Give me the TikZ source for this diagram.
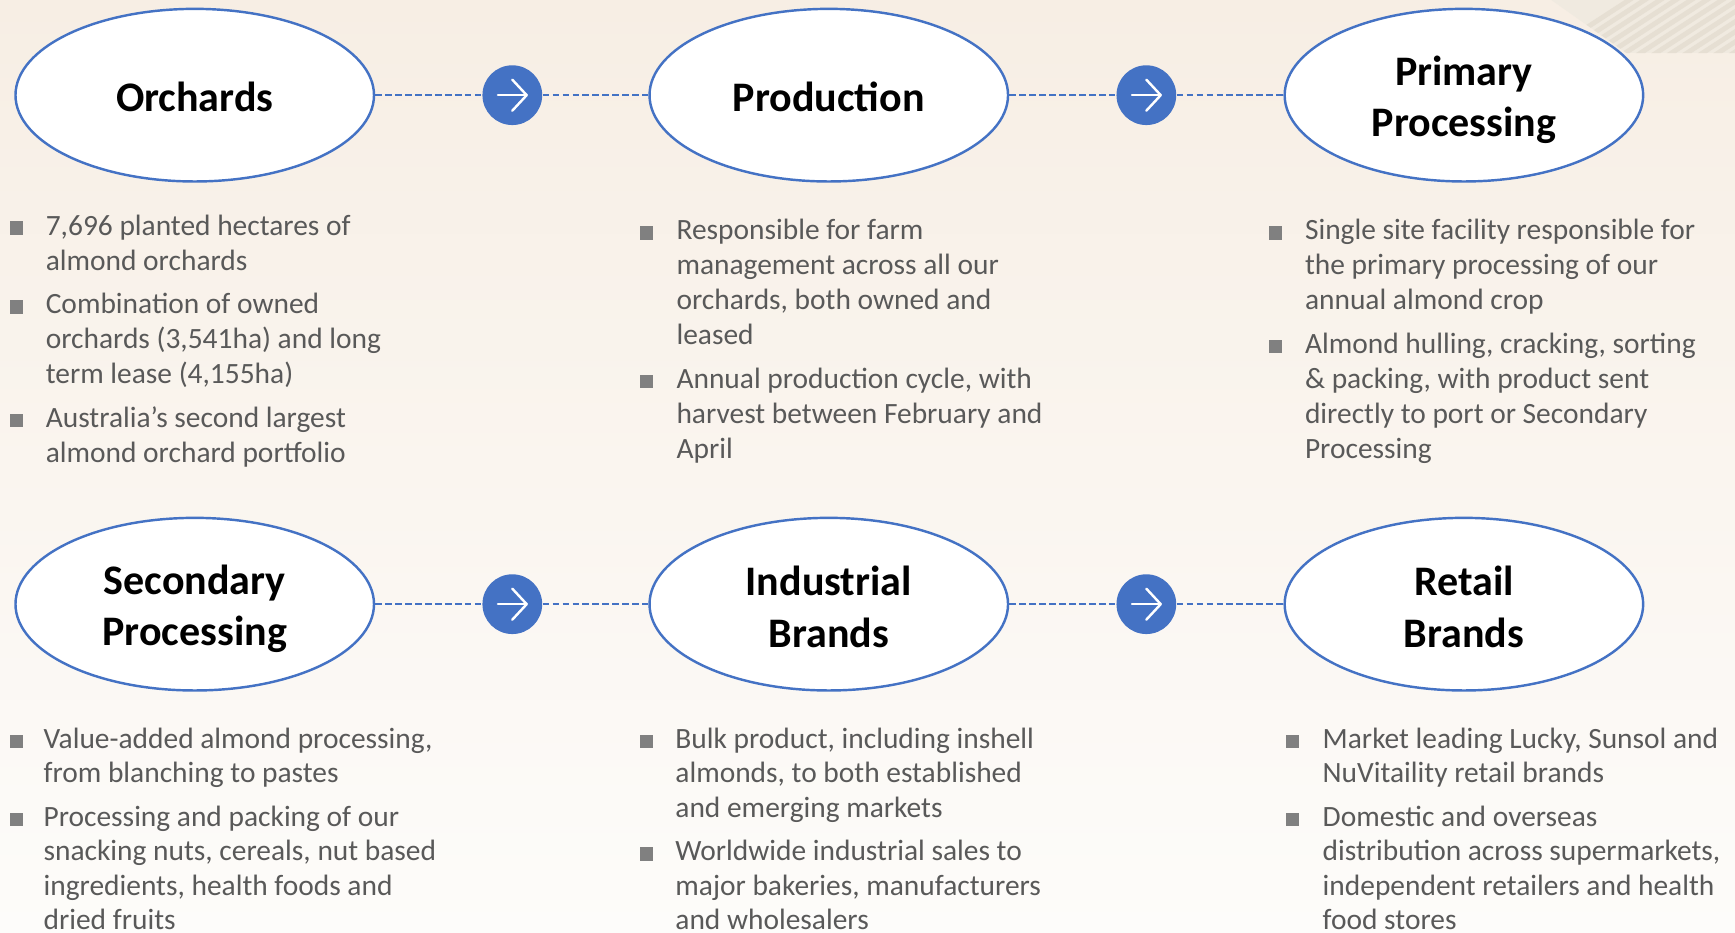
\documentclass[tikz,border=0pt]{standalone}
\usepackage{fontspec}
\setmainfont{Carlito}
\usetikzlibrary{shapes.geometric}
\definecolor{myblue}{HTML}{4472C4}
\definecolor{txtgray}{HTML}{595959}
\definecolor{bulgray}{HTML}{808080}
\definecolor{bgtop}{HTML}{F7EEE4}
\definecolor{bgbot}{HTML}{FDFCFA}
\definecolor{texa}{HTML}{F0EAE0}
\definecolor{texb}{HTML}{E6DFD3}
\tikzset{
  stage/.style={ellipse, draw=myblue, line width=1.1pt, fill=white,
    minimum width=162pt, minimum height=78pt, inner sep=0pt},
  lbl/.style={inner sep=0pt, align=center,
    font=\fontsize{19}{23.3}\selectfont\bfseries},
  arrowdot/.style={circle, fill=myblue, minimum size=27pt, inner sep=0pt},
  conn/.style={draw=myblue, line width=1.15pt, dash pattern=on 3pt off 1.5pt},
  glyph/.style={draw=white, line width=1.1pt, line cap=round, line join=round},
  bul/.style={rectangle, fill=bulgray, minimum size=6pt, inner sep=0pt},
  txt/.style={anchor=base west, inner sep=0pt, text=txtgray,
    font=\fontsize{13.3}{16}\selectfont}
}
\begin{document}
\begin{tikzpicture}[x=0.5pt,y=-0.5pt]
\useasboundingbox (0,0) rectangle (1568,843);
\shade[top color=bgtop, bottom color=bgbot] (0,0) rectangle (1568,843);
% texture top right
\begin{scope}
\clip (1402,0) -- (1470,48) -- (1568,48) -- (1568,0) -- cycle;
\fill[texa] (1390,0) rectangle (1568,48);
\foreach \s in {0,14,...,260}{
  \draw[texb, line width=2.2pt] (1380+\s,60) -- (1480+\s,-5);
}
\end{scope}
% stages
\node[stage] (orch) at (176,86) {};
\node[stage] (prod) at (749,86) {};
\node[stage] (prim) at (1323,86) {};
\node[stage] (sec)  at (176,546) {};
\node[stage] (ind)  at (749,546) {};
\node[stage] (ret)  at (1323,546) {};
\node[lbl] (orchl) at (176,87.5) {Orchards};
\node[lbl] (prodl) at (749,87.5) {Production};
\node[lbl] (priml) at (1323,90) {Primary\\Processing};
\node[lbl] (secl)  at (176,550) {Secondary\\Processing};
\node[lbl] (indl)  at (749,548.5) {Industrial\\Brands};
\node[lbl] (retl)  at (1323,548.5) {Retail\\Brands};
% arrow dots
\node[arrowdot] (a1) at (463,86) {};
\node[arrowdot] (a2) at (1036,86) {};
\node[arrowdot] (a3) at (463,546) {};
\node[arrowdot] (a4) at (1036,546) {};
\draw[conn] (orch.east) -- (a1.west);
\draw[conn] (a1.east) -- (prod.west);
\draw[conn] (prod.east) -- (a2.west);
\draw[conn] (a2.east) -- (prim.west);
\draw[conn] (sec.east) -- (a3.west);
\draw[conn] (a3.east) -- (ind.west);
\draw[conn] (ind.east) -- (a4.west);
\draw[conn] (a4.east) -- (ret.west);
\foreach \a in {a1,a2,a3,a4}{
  \draw[glyph] ([xshift=-6.5pt]\a.center) -- ([xshift=6.5pt]\a.center);
  \draw[glyph] ([xshift=0pt,yshift=7pt]\a.center) -- ([xshift=6.5pt]\a.center) -- ([xshift=0pt,yshift=-7pt]\a.center);
}
% ---- Orchards
\node[bul] (b1) at (15,206) {};
\node[txt] (t1a) at (41,212.5) {7,696 planted hectares of};
\node[txt] (t1b) at (41,244.2) {almond orchards};
\node[bul] (b2) at (15,277.5) {};
\node[txt] (t2a) at (41,283.5) {Combination of owned};
\node[txt] (t2b) at (41,315.2) {orchards (3,541ha) and long};
\node[txt] (t2c) at (41,346.9) {term lease (4,155ha)};
\node[bul] (b3) at (15,380.2) {};
\node[txt] (t3a) at (41,386.2) {Australia’s second largest};
\node[txt] (t3b) at (41,417.9) {almond orchard portfolio};
% ---- Production
\node[bul] (b4) at (584,210.5) {};
\node[txt] (t4a) at (611,216.5) {Responsible for farm};
\node[txt] (t4b) at (611,248.2) {management across all our};
\node[txt] (t4c) at (611,279.9) {orchards, both owned and};
\node[txt] (t4d) at (611,311.6) {leased};
\node[bul] (b5) at (584,344.9) {};
\node[txt] (t5a) at (611,350.9) {Annual production cycle, with};
\node[txt] (t5b) at (611,382.6) {harvest between February and};
\node[txt] (t5c) at (611,414.3) {April};
% ---- Primary processing
\node[bul] (b6) at (1153,210.5) {};
\node[txt] (t6a) at (1179,216.5) {Single site facility responsible for};
\node[txt] (t6b) at (1179,248.2) {the primary processing of our};
\node[txt] (t6c) at (1179,279.9) {annual almond crop};
\node[bul] (b7) at (1153,313.2) {};
\node[txt] (t7a) at (1179,319.2) {Almond hulling, cracking, sorting};
\node[txt] (t7b) at (1179,350.9) {\& packing, with product sent};
\node[txt] (t7c) at (1179,382.6) {directly to port or Secondary};
\node[txt] (t7d) at (1179,414.3) {Processing};
% ---- Secondary processing
\node[bul] (b8) at (15,670) {};
\node[txt] (t8a) at (39,676) {Value-added almond processing,};
\node[txt] (t8b) at (39,707.5) {from blanching to pastes};
\node[bul] (b9) at (15,740.5) {};
\node[txt] (t9a) at (39,746.5) {Processing and packing of our};
\node[txt] (t9b) at (39,777.8) {snacking nuts, cereals, nut based};
\node[txt] (t9c) at (39,809.1) {ingredients, health foods and};
\node[txt] (t9d) at (39,839.8) {dried fruits};
% ---- Industrial brands
\node[bul] (b10) at (584,670) {};
\node[txt] (t10a) at (610,676) {Bulk product, including inshell};
\node[txt] (t10b) at (610,707.5) {almonds, to both established};
\node[txt] (t10c) at (610,739) {and emerging markets};
\node[bul] (b11) at (584,771.8) {};
\node[txt] (t11a) at (610,777.8) {Worldwide industrial sales to};
\node[txt] (t11b) at (610,809.1) {major bakeries, manufacturers};
\node[txt] (t11c) at (610,839.8) {and wholesalers};
% ---- Retail brands
\node[bul] (b12) at (1168,670) {};
\node[txt] (t12a) at (1195,676) {Market leading Lucky, Sunsol and};
\node[txt] (t12b) at (1195,707.5) {NuVitaility retail brands};
\node[bul] (b13) at (1168,740.5) {};
\node[txt] (t13a) at (1195,746.5) {Domestic and overseas};
\node[txt] (t13b) at (1195,777.8) {distribution across supermarkets,};
\node[txt] (t13c) at (1195,809.1) {independent retailers and health};
\node[txt] (t13d) at (1195,839.8) {food stores};
\end{tikzpicture}
\end{document}
